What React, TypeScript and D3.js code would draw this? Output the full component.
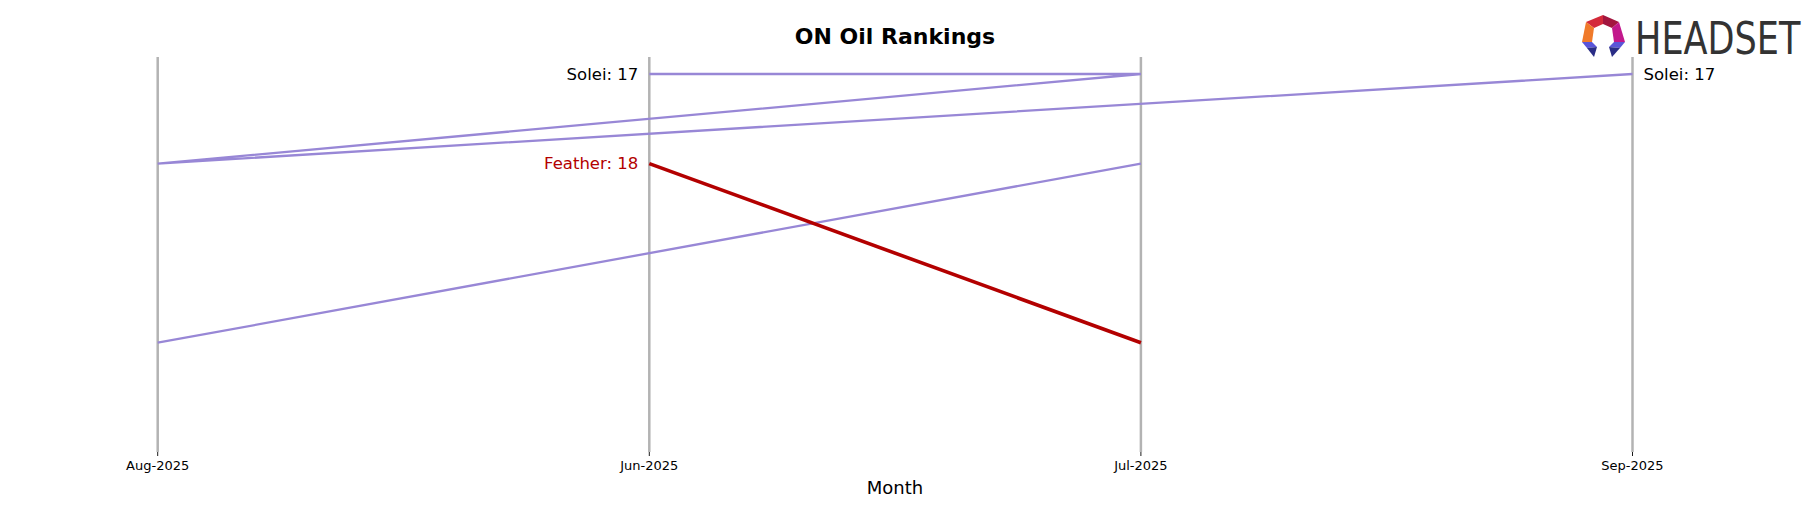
import React from "react";
import * as d3 from "d3";

const months = ["Aug-2025", "Jun-2025", "Jul-2025", "Sep-2025"];
const soleiMonths = ["Jun-2025", "Jul-2025", "Aug-2025", "Sep-2025"];
const soleiRanks = [17, 17, 18, 17];
const otherMonths = ["Jul-2025", "Aug-2025"];
const otherRanks = [18, 20];
const featherMonths = ["Jun-2025", "Jul-2025"];
const featherRanks = [18, 20];

const W = 1818;
const H = 507;

export default function App() {
  const x = d3.scalePoint<string>().domain(months).range([157.7, 1632.5]);
  const y = d3.scaleLinear().domain([16.81, 21.22]).range([57, 452]);
  const line = d3
    .line<[string, number]>()
    .x((d) => x(d[0]) as number)
    .y((d) => y(d[1]));
  const zip = (m: string[], r: number[]) => m.map((mm, i) => [mm, r[i]] as [string, number]);
  const purple = "#9887d6";
  const red = "#b30000";
  const font = "DejaVu Sans, sans-serif";
  return (
    <svg width={W} height={H} style={{ position: "absolute", left: 0, top: 0 }}>
      <rect width={W} height={H} fill="#fff" />
      {months.map((m) => (
        <g key={m}>
          <line x1={x(m)} x2={x(m)} y1={57} y2={452} stroke="#b3b3b3" strokeWidth={2.5} />
          <line x1={x(m)} x2={x(m)} y1={452} y2={456} stroke="#000" strokeWidth={0.9} />
          <text x={x(m)} y={470} textAnchor="middle" fontFamily={font} fontSize={13}>
            {m}
          </text>
        </g>
      ))}
      <path d={line(zip(soleiMonths, soleiRanks)) || ""} fill="none" stroke={purple} strokeWidth={2.3} />
      <path d={line(zip(otherMonths, otherRanks)) || ""} fill="none" stroke={purple} strokeWidth={2.3} />
      <path d={line(zip(featherMonths, featherRanks)) || ""} fill="none" stroke={red} strokeWidth={3.6} />
      <text x={(x("Jun-2025") as number) - 11} y={y(17)} dy="0.35em" textAnchor="end" fontFamily={font} fontSize={16.5}>
        Solei: {soleiRanks[0]}
      </text>
      <text x={(x("Jun-2025") as number) - 11} y={y(18)} dy="0.35em" textAnchor="end" fontFamily={font} fontSize={16.5} fill={red}>
        Feather: {featherRanks[0]}
      </text>
      <text x={(x("Sep-2025") as number) + 11} y={y(17)} dy="0.35em" textAnchor="start" fontFamily={font} fontSize={16.5}>
        Solei: {soleiRanks[3]}
      </text>
      <text x={895} y={44} textAnchor="middle" fontFamily={font} fontSize={22} fontWeight="bold">
        ON Oil Rankings
      </text>
      <text x={895} y={494} textAnchor="middle" fontFamily={font} fontSize={18}>
        Month
      </text>
      <g>
        <polygon points="1586,22 1603,15 1603,24 1594,28" fill="#d42a3a" />
        <polygon points="1603,15 1619,22 1612,28 1603,24" fill="#a3163f" />
        <polygon points="1586,22 1594,28 1592,42 1582,42" fill="#f07a2a" />
        <polygon points="1619,22 1625,42 1614,42 1612,28" fill="#c2188c" />
        <polygon points="1582,42 1592,42 1597,47 1587,48" fill="#5a55d8" />
        <polygon points="1587,48 1597,47 1594,57" fill="#2a2d86" />
        <polygon points="1625,42 1614,42 1609,47 1620,48" fill="#5a55d8" />
        <polygon points="1620,48 1609,47 1612,57" fill="#2a2d86" />
        <g transform="translate(1635,54) scale(0.78,1)">
          <text x={0} y={0} fontFamily="DejaVu Sans, sans-serif" fontSize={45} fill="#333">
            HEADSET
          </text>
        </g>
      </g>
    </svg>
  );
}
